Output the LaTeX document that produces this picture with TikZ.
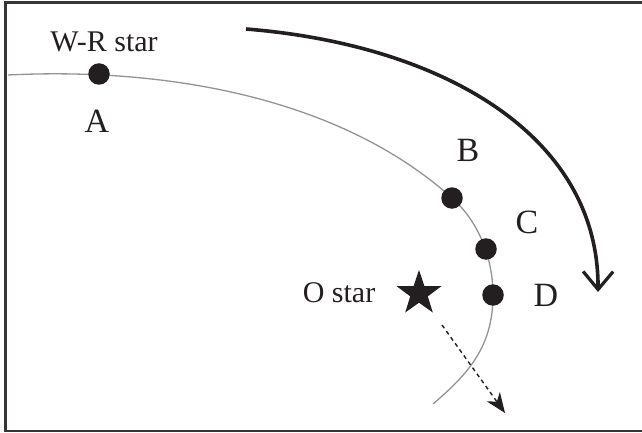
\documentclass[tikz,border=0pt]{standalone}
\usepackage{fontspec}
\setmainfont{Liberation Serif}
\usetikzlibrary{arrows.meta,shapes.geometric}
\definecolor{ink}{HTML}{231F20}
\tikzset{
  dot/.style={circle,fill=ink,inner sep=0pt,minimum size=21.5pt},
  lbl/.style={inner sep=0pt,font=\fontsize{34}{36}\selectfont,text=ink},
  txt/.style={inner sep=0pt,font=\fontsize{30}{32}\selectfont,text=ink},
  orbit/.style={draw=gray!85,line width=1.3pt},
  motion/.style={draw=ink,line width=3.6pt,-{Straight Barb[length=18pt,width=30pt,line width=3.2pt]}},
  vel/.style={draw=ink,line width=1.4pt,dash pattern=on 4pt off 3.5pt,-{Stealth[length=20pt,width=16pt,inset=6pt]}},
  frame/.style={draw=ink!90,line width=2.8pt}
}
\begin{document}
\begin{tikzpicture}[x=1pt,y=1pt]
\useasboundingbox (0,0) rectangle (642,432);
% frame
\draw[frame] (642,429.5) -- (5.5,429.5) -- (5.5,0);
\draw[ink!90,line width=1.6pt] (5.5,0.8) -- (642,0.8);
% positions on the orbit
\coordinate (pA) at (99,358);
\coordinate (pB) at (452,234);
\coordinate (pC) at (486,183);
\coordinate (pD) at (493,137);
\coordinate (o0) at (8,357);
\coordinate (o1) at (433,28);
% orbit
\draw[orbit] (o0) .. controls (170,365) and (342,333) .. (pB)
  .. controls (480,209) and (493,172) .. (pD)
  .. controls (493,85) and (468,58) .. (o1);
% dots
\node[dot] (A) at (pA) {};
\node[dot] (B) at (pB) {};
\node[dot] (C) at (pC) {};
\node[dot] (D) at (pD) {};
% labels
\node[txt] (wr) at (104,390) {W-R star};
\node[lbl] (la) at (97,311) {A};
\node[lbl] (lb) at (468,282) {B};
\node[lbl] (lc) at (527,210) {C};
\node[lbl] (ld) at (546,137) {D};
\node[txt] (os) at (339,139) {O star};
% O star
\node[star,star points=5,star point ratio=2.55,fill=ink,inner sep=0pt,minimum size=47pt] (ostar) at (419,138.5) {};
% orbital motion arrow
\coordinate (m0) at (246,403);
\coordinate (m1) at (598,140);
\draw[motion] (m0) .. controls (445,387) and (599,295) .. (m1);
% velocity arrow
\coordinate (v0) at (442,107);
\coordinate (v1) at (505,19);
\draw[vel] (v0) -- (v1);
\end{tikzpicture}
\end{document}
